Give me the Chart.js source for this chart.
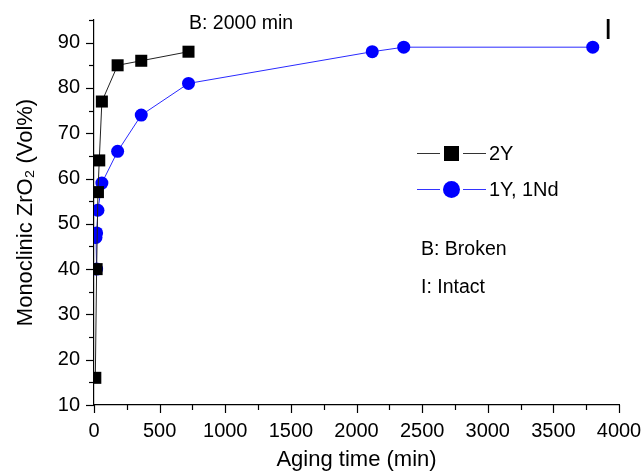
<!DOCTYPE html>
<html>
<head>
<meta charset="utf-8">
<script src="https://cdn.jsdelivr.net/npm/chart.js@4.4.1/dist/chart.umd.min.js"></script>
<style>
  html, body { margin: 0; padding: 0; background: #fff; }
  #wrap { position: relative; width: 641px; height: 475px; }
</style>
</head>
<body>
<div id="wrap"><canvas id="chart"></canvas></div>
<script>
// aging time (min) and monoclinic fraction (Vol%)
const time2Y   = [10, 20, 30, 40, 60, 180, 360, 720];
const mono2Y   = [16, 40, 57, 64, 77, 85, 86, 88];
const time1Y   = [20, 15, 20, 30, 60, 180, 360, 720, 2120, 2360, 3800];
const mono1Y   = [40, 47, 48, 53, 59, 66, 74, 81, 88, 89, 89];
const xTicks   = [0, 500, 1000, 1500, 2000, 2500, 3000, 3500, 4000];
const yTicks   = [10, 20, 30, 40, 50, 60, 70, 80, 90];
const seriesNames = ['2Y', '1Y, 1Nd'];

const FONT = '"Liberation Sans", Arial, sans-serif';

// minor/major tick marks drawn outside the axes, plus legend and notes
const extras = {
  id: 'extras',
  afterDraw(chart) {
    const { ctx, scales: { x, y } } = chart;
    ctx.save();
    ctx.strokeStyle = '#000';
    ctx.lineWidth = 1.2;
    for (let v = 0; v <= 4000; v += 250) {
      const px = Math.round(x.getPixelForValue(v)) + 0.5;
      const len = v % 500 === 0 ? 8 : 5;
      ctx.beginPath(); ctx.moveTo(px, y.bottom); ctx.lineTo(px, y.bottom + len); ctx.stroke();
    }
    for (let v = 10; v <= 95; v += 5) {
      const py = Math.round(y.getPixelForValue(v)) + 0.5;
      const len = v % 10 === 0 ? 8 : 5;
      ctx.beginPath(); ctx.moveTo(x.left, py); ctx.lineTo(x.left - len, py); ctx.stroke();
    }

    // legend
    const rows = [
      { y: 153, color: '#000', line: '#333', shape: 'sq' },
      { y: 189, color: '#0000ff', line: '#3333ff', shape: 'ci' }
    ];
    rows.forEach((r, i) => {
      ctx.strokeStyle = r.line;
      ctx.lineWidth = 1;
      ctx.beginPath(); ctx.moveTo(417, r.y + 0.5); ctx.lineTo(440, r.y + 0.5); ctx.stroke();
      ctx.beginPath(); ctx.moveTo(463, r.y + 0.5); ctx.lineTo(486, r.y + 0.5); ctx.stroke();
      ctx.fillStyle = r.color;
      if (r.shape === 'sq') ctx.fillRect(444, r.y - 7, 15, 15);
      else { ctx.beginPath(); ctx.arc(451.5, r.y + 0.5, 8.5, 0, Math.PI * 2); ctx.fill(); }
      ctx.fillStyle = '#000';
      ctx.font = '20px ' + FONT;
      ctx.textBaseline = 'middle';
      ctx.fillText(seriesNames[i], 489, r.y + 1);
    });

    ctx.fillStyle = '#000';
    ctx.textBaseline = 'middle';
    ctx.font = '19.5px ' + FONT;
    ctx.fillText('B: 2000 min', 189, 24);
    ctx.fillText('B: Broken', 421, 250);
    ctx.fillText('I: Intact', 421, 288);
    ctx.font = '30px ' + FONT;
    ctx.fillText('I', 604, 31);
    ctx.restore();
  }
};

new Chart(document.getElementById('chart'), {
  type: 'line',
  data: {
    datasets: [
      {
        label: seriesNames[0],
        data: time2Y.map((t, i) => ({ x: t, y: mono2Y[i] })),
        borderColor: '#222', borderWidth: 1,
        pointStyle: 'rect', pointRadius: 8.5, pointHoverRadius: 8.5,
        pointBackgroundColor: '#000', pointBorderWidth: 0
      },
      {
        label: seriesNames[1],
        data: time1Y.map((t, i) => ({ x: t, y: mono1Y[i] })),
        borderColor: '#2a2aff', borderWidth: 1,
        pointStyle: 'circle', pointRadius: 6.5, pointHoverRadius: 6.5,
        pointBackgroundColor: '#0000ff', pointBorderWidth: 0
      }
    ]
  },
  options: {
    responsive: true, maintainAspectRatio: false, animation: false,
    layout: { padding: { top: 20, right: 22, left: 0, bottom: 0 } },
    plugins: { legend: { display: false }, tooltip: { enabled: false } },
    scales: {
      x: {
        type: 'linear', min: 0, max: 4000,
        afterBuildTicks: s => { s.ticks = xTicks.map(v => ({ value: v })); },
        afterFit: s => { s.height = 70; s.paddingRight = 0; s.paddingLeft = 0; },
        grid: { display: false },
        border: { display: true, color: '#000', width: 1.2 },
        ticks: { color: '#000', font: { family: FONT, size: 20 }, padding: 6, maxRotation: 0, autoSkip: false, callback: v => String(v) },
        title: { display: true, text: 'Aging time (min)', color: '#000', font: { family: FONT, size: 22 }, padding: { top: 0, bottom: 2 } }
      },
      y: {
        type: 'linear', min: 10, max: 95,
        afterBuildTicks: s => { s.ticks = yTicks.map(v => ({ value: v })); },
        afterFit: s => { s.width = 94; },
        grid: { display: false },
        border: { display: true, color: '#000', width: 1.2 },
        ticks: { color: '#000', font: { family: FONT, size: 20 }, padding: 6, callback: v => String(v) },
        title: { display: true, text: 'Monoclinic ZrO₂ (Vol%)', color: '#000', font: { family: FONT, size: 22 }, padding: { top: 13, bottom: 0 } }
      }
    }
  },
  plugins: [extras]
});
</script>
</body>
</html>
